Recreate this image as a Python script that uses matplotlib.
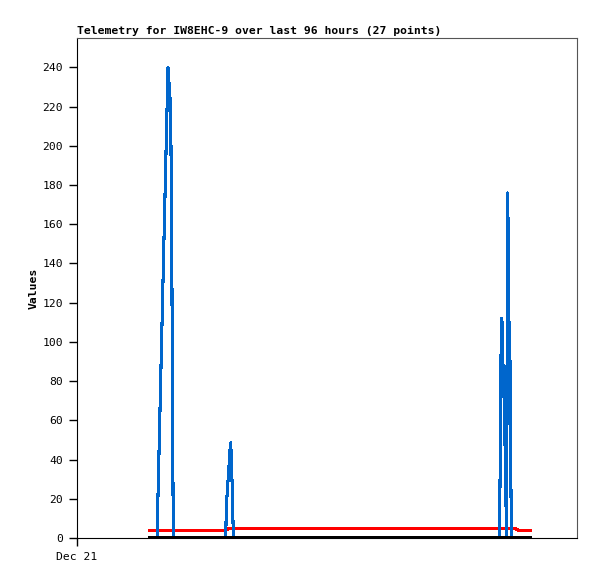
import matplotlib
matplotlib.use("Agg")
import matplotlib.pyplot as plt

# hours since Dec 21 00:00
title = "Telemetry for IW8EHC-9 over last 96 hours (27 points)"

black_x = [14.02, 86.98]
black_y = [0, 0]

red_x = [14.02, 28.42, 29.18, 84.10, 84.48, 85.06, 86.98]
red_y = [3.7, 3.7, 4.9, 4.9, 4.3, 3.7, 3.7]

blue_x = [14.02, 15.36, 17.47, 17.61, 17.72, 17.86, 17.99, 18.18, 18.37, 18.49,
          28.55, 28.67, 28.86, 29.13, 29.32, 29.51, 29.63, 29.82, 29.95, 30.09,
          81.08, 81.22, 81.35, 81.54, 81.66, 81.73, 81.85, 81.98, 82.27, 82.50,
          82.66, 82.81, 82.94, 83.08, 83.19, 83.33, 83.42, 86.98]
blue_y = [0, 0, 240, 227, 232, 224, 216, 156, 52, 0,
          0, 15, 24.5, 34, 43, 48.5, 40, 24.5, 8, 0,
          0, 28, 84, 112, 108, 100, 72, 88, 30, 0,
          176, 154, 88, 110, 66, 22, 0, 0]

yticks = list(range(0, 241, 20))
xticks = [0]
xlabels = ["Dec 21"]

font = "DejaVu Sans Mono"

fig = plt.figure(figsize=(5.97, 5.79), dpi=100)
ax = fig.add_axes([77/597, 41/579, 500/597, 500/579])

ax.plot(red_x, red_y, color="#ff0000", lw=1.5, antialiased=False, zorder=2)
ax.plot(blue_x, blue_y, color="#0066cc", lw=1.5, antialiased=False, zorder=3)
ax.plot(black_x, black_y, color="black", lw=1.5, antialiased=False, zorder=4)

ax.set_xlim(0, 96)
ax.set_ylim(0, 255)
ax.set_yticks(yticks)
ax.set_yticklabels([str(v) for v in yticks], fontfamily=font, fontsize=8.2)
ax.set_xticks(xticks)
ax.set_xticklabels(xlabels, fontfamily=font, fontsize=8.2)
ax.tick_params(length=6, width=1, color="black", pad=4)

for s in ["top", "right"]:
    ax.spines[s].set_color("#555555")
for s in ["left", "bottom"]:
    ax.spines[s].set_color("black")

ax.set_ylabel("Values", fontfamily=font, fontsize=8.2, fontweight="bold", labelpad=3)
ax.set_title(title, fontfamily=font, fontsize=8.2, fontweight="bold", loc="left", pad=3)

fig.savefig("out.png", dpi=100)
